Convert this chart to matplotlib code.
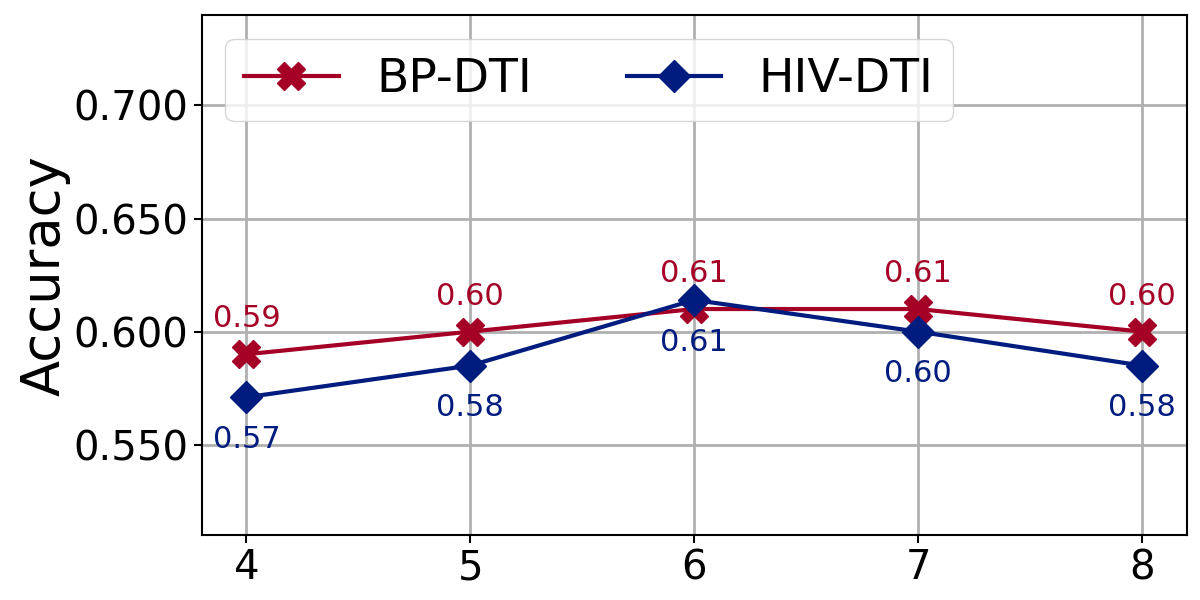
import matplotlib
matplotlib.use("Agg")
import matplotlib.pyplot as plt

x_vals = [4, 5, 6, 7, 8]
bp_dti = [0.590, 0.600, 0.610, 0.610, 0.600]
hiv_dti = [0.571, 0.585, 0.614, 0.600, 0.585]
bp_labels = ["0.59", "0.60", "0.61", "0.61", "0.60"]
hiv_labels = ["0.57", "0.58", "0.61", "0.60", "0.58"]
yticks = [0.550, 0.600, 0.650, 0.700]

red = "#a50026"
blue = "#001c7f"

fig, ax = plt.subplots(figsize=(12, 6), dpi=100)
ax.plot(x_vals, bp_dti, color=red, marker="X", markersize=20, linewidth=3, label="BP-DTI")
ax.plot(x_vals, hiv_dti, color=blue, marker="D", markersize=16, linewidth=3, label="HIV-DTI")

for xv, yv, t in zip(x_vals, bp_dti, bp_labels):
    ax.annotate(t, (xv, yv), xytext=(0, 15), textcoords="offset points",
                ha="center", va="bottom", color=red, fontsize=22)
for xv, yv, t in zip(x_vals, hiv_dti, hiv_labels):
    ax.annotate(t, (xv, yv), xytext=(0, -20), textcoords="offset points",
                ha="center", va="top", color=blue, fontsize=22)

ax.set_xlim(3.8, 8.2)
ax.set_ylim(0.51, 0.74)
ax.set_xticks(x_vals)
ax.set_yticks(yticks)
ax.set_yticklabels([f"{v:.3f}" for v in yticks])
ax.tick_params(labelsize=29, width=1.5, length=6)
ax.set_ylabel("Accuracy", fontsize=38, labelpad=2)
ax.grid(True, color="#b0b0b0", linewidth=2)
ax.set_axisbelow(True)
for s in ax.spines.values():
    s.set_linewidth(1.5)
ax.legend(loc="upper left", ncol=2, fontsize=34, handlelength=2.0, columnspacing=2.0,
          handletextpad=0.8, borderaxespad=0.5)

fig.subplots_adjust(left=0.168, right=0.989, top=0.975, bottom=0.108)
fig.savefig("out.png", dpi=100)
